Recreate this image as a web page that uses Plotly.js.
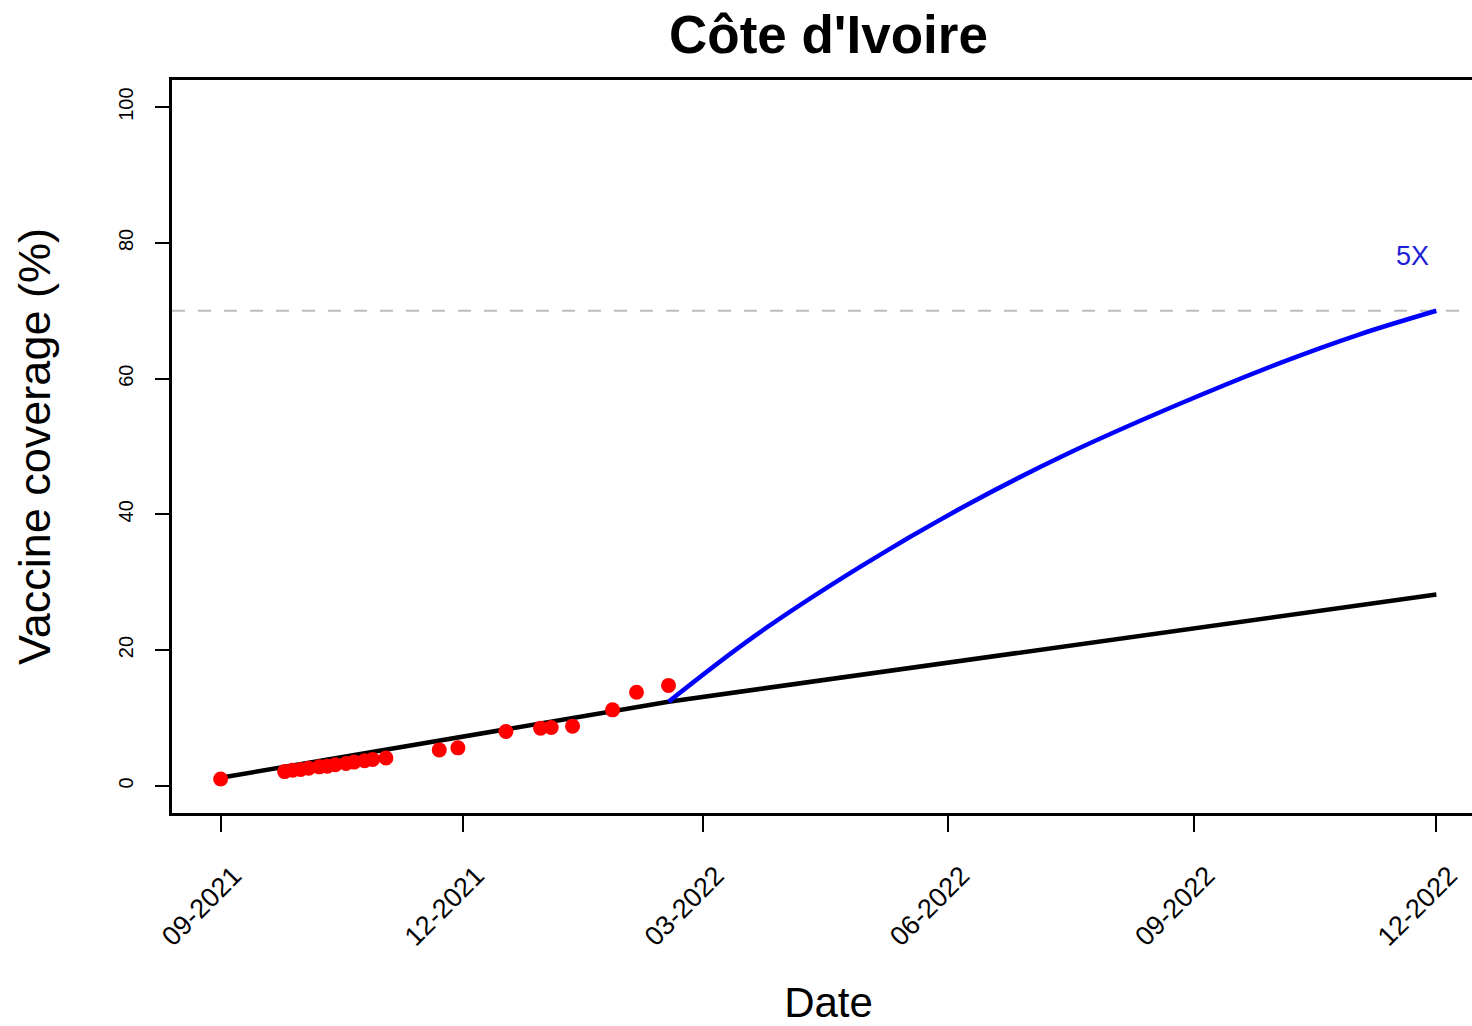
<!DOCTYPE html>
<html>
<head>
<meta charset="utf-8">
<script src="https://cdn.plot.ly/plotly-3.0.1.min.js"></script>
<style>
html, body { margin: 0; padding: 0; overflow: hidden; background: #ffffff; }
#chart { width: 1500px; height: 1026px; }
</style>
</head>
<body>
<div id="chart"></div>
<script>
// ---- data ----
var chartTitle = "Côte d'Ivoire";
var obsDates = ["2021-09-01", "2021-09-25", "2021-09-28", "2021-10-01", "2021-10-04", "2021-10-08",
  "2021-10-11", "2021-10-14", "2021-10-18", "2021-10-21", "2021-10-25", "2021-10-28", "2021-11-02",
  "2021-11-22", "2021-11-29", "2021-12-17", "2021-12-30", "2022-01-03", "2022-01-11", "2022-01-26",
  "2022-02-04", "2022-02-16"];
var obsCoverage = [1.0, 2.1, 2.3, 2.4, 2.6, 2.8, 2.9, 3.1, 3.3, 3.5, 3.7, 3.9, 4.1,
  5.3, 5.6, 8.0, 8.5, 8.6, 8.8, 11.2, 13.8, 14.8];

var trendDates = ["2021-09-01", "2022-02-16", "2022-12-01"];
var trendCoverage = [1.2, 12.4, 28.2];

var scenarioDates = ["2022-02-16", "2022-03-20", "2022-04-29", "2022-06-07", "2022-07-16",
  "2022-08-25", "2022-10-04", "2022-11-02", "2022-12-01"];
var scenarioCoverage = [12.4, 22.0, 32.3, 41.2, 49.0, 56.0, 62.4, 66.5, 70.0];
var scenarioLabel = "5X";
var scenarioLabelDate = "2022-11-22";
var scenarioLabelValue = 78;

var targetCoverage = 70;

var xTickVals = ["2021-09-01", "2021-12-01", "2022-03-01", "2022-06-01", "2022-09-01", "2022-12-01"];
var xTickText = ["09-2021", "12-2021", "03-2022", "06-2022", "09-2022", "12-2022"];
var yTickVals = [0, 20, 40, 60, 80, 100];
var xRange = ["2021-08-13 18:14", "2022-12-19 05:46"];
var yRange = [-4, 104];

var FONT = "Liberation Sans, Arial, Helvetica, sans-serif";

var traces = [
  {
    x: trendDates, y: trendCoverage, type: "scatter", mode: "lines",
    line: { color: "#000000", width: 4.5 }, hoverinfo: "skip"
  },
  {
    x: scenarioDates, y: scenarioCoverage, type: "scatter", mode: "lines",
    line: { color: "#0000ff", width: 4.5, shape: "spline", smoothing: 1 }, hoverinfo: "skip"
  },
  {
    x: obsDates, y: obsCoverage, type: "scatter", mode: "markers",
    marker: { color: "#ff0000", size: 15, line: { width: 0 } }, hoverinfo: "skip"
  }
];

var layout = {
  width: 1500, height: 1026,
  margin: { l: 172, r: 15, t: 80, b: 213 },
  paper_bgcolor: "#ffffff", plot_bgcolor: "#ffffff",
  showlegend: false,
  font: { family: FONT, color: "#000000" },
  title: {
    text: "<b>" + chartTitle + "</b>",
    font: { family: FONT, size: 53, color: "#000000" },
    x: 0.5523, xref: "container", xanchor: "center",
    y: 1 - 34 / 1026, yref: "container", yanchor: "middle"
  },
  xaxis: {
    type: "date", range: xRange,
    tickvals: xTickVals, ticktext: xTickText,
    tickangle: -45, tickfont: { family: FONT, size: 27, color: "#000000" },
    ticklabelshift: 13, ticklabelstandoff: 17,
    ticks: "outside", ticklen: 16, tickwidth: 2, tickcolor: "#000000",
    showline: true, linecolor: "#000000", linewidth: 3, mirror: true,
    showgrid: false, zeroline: false,
    title: { text: "Date", font: { family: FONT, size: 42, color: "#000000" }, standoff: 43 }
  },
  yaxis: {
    range: yRange, tickvals: yTickVals,
    tickangle: -90, tickfont: { family: FONT, size: 20, color: "#000000" },
    ticklabelstandoff: 14,
    ticks: "outside", ticklen: 14, tickwidth: 2, tickcolor: "#000000",
    showline: true, linecolor: "#000000", linewidth: 3, mirror: true,
    showgrid: false, zeroline: false,
    title: { text: "Vaccine coverage (%)", font: { family: FONT, size: 45, color: "#000000" }, standoff: 51 }
  },
  shapes: [
    {
      type: "line", xref: "paper", x0: 0, x1: 1, yref: "y", y0: targetCoverage, y1: targetCoverage,
      line: { color: "#bdbdbd", width: 2, dash: "13px,13px" }, layer: "below"
    }
  ],
  annotations: [
    {
      x: scenarioLabelDate, y: scenarioLabelValue, xref: "x", yref: "y",
      text: scenarioLabel, showarrow: false, xanchor: "center", yanchor: "middle",
      font: { family: FONT, size: 27, color: "#1f1fd6" }
    }
  ]
};

Plotly.newPlot("chart", traces, layout, { staticPlot: true, displayModeBar: false });
</script>
</body>
</html>
